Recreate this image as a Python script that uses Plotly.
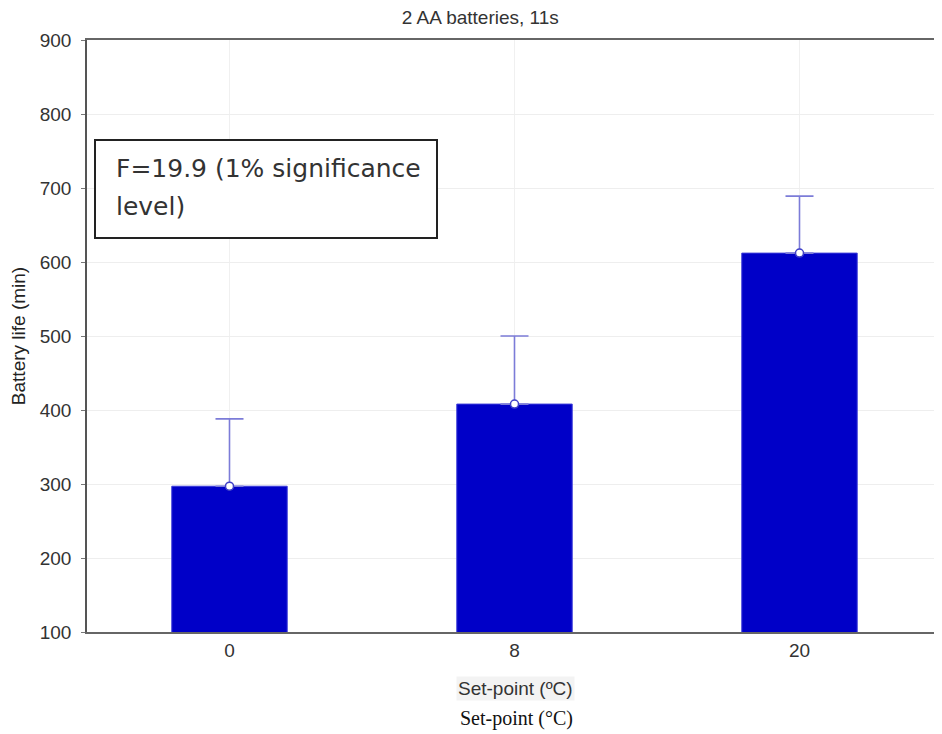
import plotly.graph_objects as go

categories = ["0", "8", "20"]
battery_life = [297, 408, 612]
error_plus = [91, 92, 77]
title_text = "2 AA batteries, 11s"
y_title = "Battery life (min)"
x_title = "Set-point (ºC)"
caption = "Set-point (°C)"
box_line1 = "F=19.9 (1% significance"
box_line2 = "level)"
y_ticks = [100, 200, 300, 400, 500, 600, 700, 800, 900]

# page body has an 8px margin; compensate so plot area lands at x 87..942, y 40..632
OFF = 8
W, H = 942 - OFF, 734 - OFF

fig = go.Figure()
fig.add_trace(go.Bar(
    x=categories, y=battery_life,
    marker=dict(color="#0000c8", line=dict(color="#3a3ad8", width=1)),
    showlegend=False, hoverinfo="skip",
))
fig.add_trace(go.Scatter(
    x=categories, y=battery_life, mode="markers",
    marker=dict(symbol="circle", size=8, color="white",
                line=dict(color="#3f3fc8", width=1.5)),
    error_y=dict(type="data", symmetric=False, array=error_plus,
                 arrayminus=[0, 0, 0], color="#7c7cd8", thickness=1.6, width=14),
    showlegend=False,
))

font_main = "Liberation Sans, Arial, sans-serif"

fig.update_layout(
    width=W, height=H,
    margin=dict(l=87 - OFF, r=0, t=40 - OFF, b=734 - 632),
    paper_bgcolor="white", plot_bgcolor="white",
    bargap=0.595,
    font=dict(family=font_main, color="#333333", size=19),
    title=dict(text=title_text, x=0.46, xref="paper", xanchor="center",
               y=1 - (17 - OFF) / H, yanchor="middle",
               font=dict(size=19, color="#333333", family=font_main)),
    xaxis=dict(type="category", range=[-0.5, 2.5], showline=True,
               linecolor="#666666", linewidth=1.5, mirror=True,
               showgrid=True, gridcolor="#f0f0f0", gridwidth=1,
               ticks="", tickfont=dict(size=19, color="#333333"),
               zeroline=False),
    yaxis=dict(range=[100, 900], tickvals=y_ticks, showline=True,
               linecolor="#555555", linewidth=1.5,
               showgrid=True, gridcolor="#eeeeee", gridwidth=1,
               ticks="outside", ticklen=4, tickcolor="#777777",
               ticklabelstandoff=6,
               tickfont=dict(size=19, color="#333333"), zeroline=False,
               title=dict(text=y_title, standoff=14,
                          font=dict(size=19, color="#222222"))),
    shapes=[dict(type="rect", xref="paper", yref="paper",
                 x0=(95 - 87) / 855, x1=(437 - 87) / 855,
                 y0=1 - (238 - 40) / 592, y1=1 - (140 - 40) / 592,
                 line=dict(color="#222222", width=2), fillcolor="white",
                 layer="above")],
    annotations=[
        dict(text=box_line1, xref="paper", yref="paper",
             x=(114 - 87) / 855, y=1 - (168 - 40) / 592,
             xanchor="left", yanchor="middle", showarrow=False,
             font=dict(family="DejaVu Sans, sans-serif", size=25, color="#333333")),
        dict(text=box_line2, xref="paper", yref="paper",
             x=(114 - 87) / 855, y=1 - (206 - 40) / 592,
             xanchor="left", yanchor="middle", showarrow=False,
             font=dict(family="DejaVu Sans, sans-serif", size=25, color="#333333")),
        dict(text=x_title, xref="paper", yref="paper",
             x=(515 - 87) / 855, y=-(688 - 632) / 592,
             xanchor="center", yanchor="middle", showarrow=False,
             bgcolor="#f3f3f3", borderpad=1,
             font=dict(family=font_main, size=19, color="#333333")),
        dict(text=caption, xref="paper", yref="paper",
             x=(516 - 87) / 855, y=-(718 - 632) / 592,
             xanchor="center", yanchor="middle", showarrow=False,
             font=dict(family="Liberation Serif, Times New Roman, serif", size=20, color="#111111")),
    ],
)

fig.write_html("out.html")
